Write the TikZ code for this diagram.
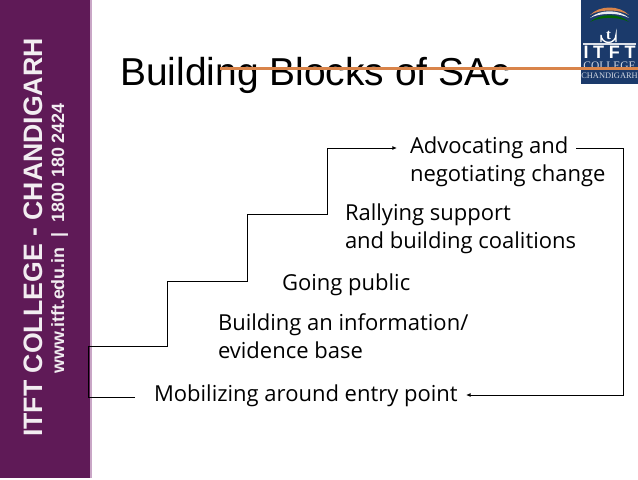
\documentclass[tikz,border=0pt]{standalone}
\usepackage{fontspec}
\setmainfont{Liberation Sans}
\newfontfamily\bodyfont{Open Sans}
\newfontfamily\logoserif{Liberation Serif}
\definecolor{barpurple}{HTML}{5F1A57}
\definecolor{baredge}{HTML}{C9A6C6}
\definecolor{navy}{HTML}{1B3A6B}
\definecolor{rule}{HTML}{D9844A}
\usetikzlibrary{arrows.meta}
\tikzset{
  x=0.75pt,y=-0.75pt,
  item/.style={anchor=base west,inner sep=0pt,outer sep=0pt,font=\bodyfont\fontsize{16.5}{21}\selectfont,align=left,text=black},
  conn/.style={draw=black,line width=0.75pt},
  tipped/.style={conn,-{Latex[length=3.5pt,width=3pt]}},
  bartext/.style={rotate=90,anchor=base west,inner sep=0pt,text=white!92!barpurple,font=\bfseries},
}
\begin{document}
\begin{tikzpicture}
\useasboundingbox (0,0) rectangle (638,479);
\fill[white] (0,0) rectangle (638,479);
% sidebar
\fill[barpurple] (0,0) rectangle (90,478);
\fill[baredge] (90,0) rectangle (91.5,478);
\node[bartext,font=\bfseries\fontsize{20}{24}\selectfont] (brand) at (42,437) {ITFT COLLEGE - CHANDIGARH};
\node[bartext,font=\bfseries\fontsize{13.4}{16}\selectfont] (web) at (64,374) {www.itft.edu.in\ \ |\ \ 1800 180 2424};
% title
\node[anchor=base west,inner sep=0pt,font=\fontsize{29.2}{36}\selectfont,text=black] (title) at (120,85) {Building Blocks of SAc};
% logo
\fill[navy] (581,0) rectangle (638,84);
\fill[rule] (590,15) .. controls (600,5) and (619,5) .. (629,15) .. controls (619,9) and (600,9) .. (590,15);
\fill[white!90!navy] (590,18) .. controls (600,9) and (619,9) .. (629,18) .. controls (619,12.5) and (600,12.5) .. (590,18);
\fill[green!40!black] (590,22) .. controls (600,13) and (619,13) .. (629,22) .. controls (619,16.5) and (600,16.5) .. (590,22);
\draw[white,line width=1pt] (601,42) -- (601,35) arc[start angle=180,end angle=360,radius=5.6pt] -- (616,42);
\node[inner sep=0pt,text=white,font=\logoserif\bfseries\fontsize{11}{11}\selectfont] (logot) at (608.5,35) {t};
\fill[white!85!navy] (583,43) rectangle (636,44.5);
\node[inner sep=0pt,text=white,font=\bfseries\fontsize{13.5}{14}\selectfont] (logoa) at (609.5,52) {I\hspace{3.5pt}T\hspace{3.5pt}F\hspace{3.5pt}T};
\node[inner sep=0pt,text=white!80!navy,font=\logoserif\fontsize{8.6}{8}\selectfont] (logob) at (609.5,66) {COLLEGE};
\node[inner sep=0pt,text=white!80!navy,font=\logoserif\fontsize{6.3}{7}\selectfont] (logoc) at (609.5,75.5) {CHANDIGARH};
% rule
\fill[rule] (220,66.8) rectangle (638,69.6);
% items
\node[item] (advo) at (410,153) {Advocating and};
\node[item] (nego) at (410,181) {negotiating change};
\node[item] (rally) at (345,220) {Rallying support};
\node[item] (coal) at (345,248) {and building coalitions};
\node[item] (pub) at (282,290) {Going public};
\node[item] (info) at (218,330) {Building an information/};
\node[item] (evid) at (218,358) {evidence base};
\node[item] (mob) at (154,401) {Mobilizing around entry point};
% stair connector
\coordinate (s0) at (135,397);
\coordinate (s1) at (88,397);
\coordinate (s2) at (88,346);
\coordinate (s3) at (167,346);
\coordinate (s4) at (167,281);
\coordinate (s5) at (247,281);
\coordinate (s6) at (247,214);
\coordinate (s7) at (327,214);
\coordinate (s8) at (327,148);
\coordinate (s9) at (397,148);
\draw[tipped] (s0) -- (s1) -- (s2) -- (s3) -- (s4) -- (s5) -- (s6) -- (s7) -- (s8) -- (s9);
% return connector
\coordinate (r0) at (576,148);
\coordinate (r1) at (623,148);
\coordinate (r2) at (623,395);
\coordinate (r3) at (466,395);
\draw[tipped] (r0) -- (r1) -- (r2) -- (r3);
\end{tikzpicture}
\end{document}
